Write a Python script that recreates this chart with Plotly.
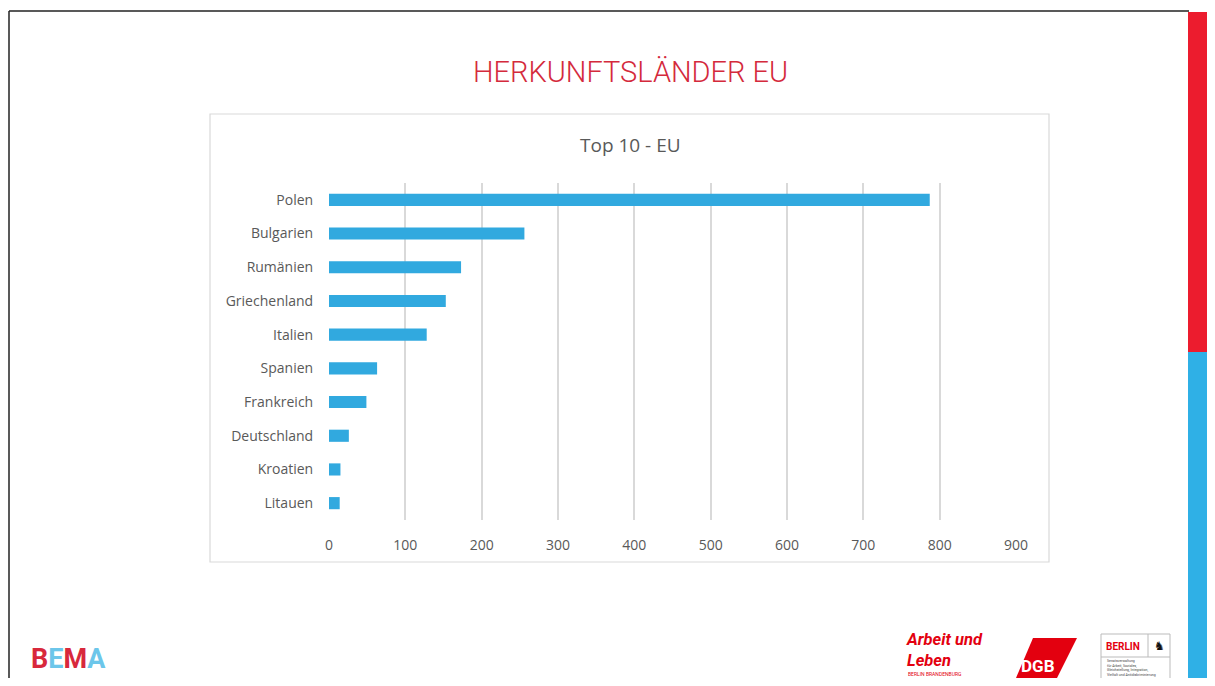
import plotly.graph_objects as go

# Page is 1215x686; browser body keeps its default 8px margin, so the
# figure is sized to fit exactly inside it and coordinates are offset.
PAGE_W, PAGE_H = 1215, 686
OFF = 8
FW, FH = PAGE_W - 2 * OFF, PAGE_H - 2 * OFF

countries = ["Polen", "Bulgarien", "Rumänien", "Griechenland", "Italien",
             "Spanien", "Frankreich", "Deutschland", "Kroatien", "Litauen"]
values = [787, 256, 173, 153, 128, 63, 49, 26, 15, 14]
x_ticks = [0, 100, 200, 300, 400, 500, 600, 700, 800, 900]

main_title = "HERKUNFTSLÄNDER EU"
chart_title = "Top 10 - EU"

BAR = "#31a9df"
RED = "#ec1c2e"
BLUE = "#2fb0e6"
GRAY_TXT = "#595959"


def px(x):
    return (x - OFF) / FW


def py(y):
    return 1 - (y - OFF) / FH


fig = go.Figure(go.Bar(
    x=values, y=countries, orientation="h",
    marker=dict(color=BAR, line=dict(width=0)),
    hoverinfo="x+y",
))

shapes = []
# page border lines (top + left)
shapes.append(dict(type="line", xref="paper", yref="paper", x0=px(9), x1=px(1189), y0=py(11), y1=py(11),
                   line=dict(color="#222222", width=1.5)))
shapes.append(dict(type="line", xref="paper", yref="paper", x0=px(9), x1=px(9), y0=py(11), y1=py(700),
                   line=dict(color="#222222", width=1.5)))
# right colour bars
shapes.append(dict(type="rect", xref="paper", yref="paper", x0=px(1188), x1=px(1230), y0=py(12), y1=py(352),
                   fillcolor=RED, line=dict(width=0), layer="below"))
shapes.append(dict(type="rect", xref="paper", yref="paper", x0=px(1188), x1=px(1230), y0=py(352), y1=py(700),
                   fillcolor=BLUE, line=dict(width=0), layer="below"))
# chart frame
shapes.append(dict(type="rect", xref="paper", yref="paper", x0=px(210), x1=px(1049), y0=py(114), y1=py(562),
                   fillcolor="rgba(0,0,0,0)", line=dict(color="#d9d9d9", width=1.2), layer="below"))
# DGB parallelogram
shapes.append(dict(type="path", xref="paper", yref="paper",
                   path=f"M {px(1016)} {py(678)} L {px(1057)} {py(678)} L {px(1077)} {py(638)} L {px(1033)} {py(638)} Z",
                   fillcolor="#e3000f", line=dict(width=0)))
# Berlin box
shapes.append(dict(type="rect", xref="paper", yref="paper", x0=px(1101), x1=px(1170), y0=py(634), y1=py(684),
                   fillcolor="white", line=dict(color="#bbbbbb", width=1)))
shapes.append(dict(type="line", xref="paper", yref="paper", x0=px(1101), x1=px(1170), y0=py(657), y1=py(657),
                   line=dict(color="#bbbbbb", width=1)))
shapes.append(dict(type="line", xref="paper", yref="paper", x0=px(1148), x1=px(1148), y0=py(634), y1=py(657),
                   line=dict(color="#bbbbbb", width=1)))

annotations = [
    dict(text=main_title, x=px(630), y=py(72), xref="paper", yref="paper", showarrow=False,
         xanchor="center", yanchor="middle",
         font=dict(family="Roboto", size=29, color="#d42a3c", weight=300)),
    dict(text=chart_title, x=px(630), y=py(145), xref="paper", yref="paper", showarrow=False,
         xanchor="center", yanchor="middle",
         font=dict(family="Open Sans", size=19, color=GRAY_TXT)),
    # BEMA logo
    dict(text="<b><span style='color:#d8283c'>B</span><span style='color:#6cc6ea'>E</span>"
              "<span style='color:#d8283c'>M</span><span style='color:#6cc6ea'>A</span></b>",
         x=px(29), y=py(659), xref="paper", yref="paper", showarrow=False,
         xanchor="left", yanchor="middle",
         font=dict(family="Roboto", size=27)),
    # Arbeit und Leben
    dict(text="<b><i>Arbeit und<br>Leben</i></b>", x=px(904), y=py(650), xref="paper", yref="paper",
         showarrow=False, xanchor="left", yanchor="middle", align="left",
         font=dict(family="Roboto", size=16.5, color="#e3000f")),
    dict(text="BERLIN BRANDENBURG", x=px(906), y=py(674), xref="paper", yref="paper",
         showarrow=False, xanchor="left", yanchor="middle",
         font=dict(family="Roboto", size=5, color="#e3000f")),
    # DGB
    dict(text="<b>DGB</b>", x=px(1038), y=py(666), xref="paper", yref="paper",
         showarrow=False, xanchor="center", yanchor="middle",
         font=dict(family="Roboto", size=17, color="white")),
    # Berlin
    dict(text="<b>BERLIN</b>", x=px(1123), y=py(646), xref="paper", yref="paper",
         showarrow=False, xanchor="center", yanchor="middle",
         font=dict(family="Roboto", size=10, color="#e3000f")),
    dict(text="<b>♞</b>", x=px(1159), y=py(646), xref="paper", yref="paper",
         showarrow=False, xanchor="center", yanchor="middle",
         font=dict(family="DejaVu Sans", size=12, color="#111111")),
    dict(text="Senatsverwaltung<br>für Arbeit, Soziales,<br>Gleichstellung, Integration,<br>Vielfalt und Antidiskriminierung",
         x=px(1105), y=py(668), xref="paper", yref="paper",
         showarrow=False, xanchor="left", yanchor="middle", align="left",
         font=dict(family="Roboto", size=3.5, color="#444444")),
]

fig.update_layout(
    width=FW, height=FH,
    autosize=False,
    margin=dict(l=0, r=0, t=0, b=0, pad=0, autoexpand=False),
    paper_bgcolor="white", plot_bgcolor="white",
    showlegend=False,
    bargap=0.64,
    shapes=shapes,
    annotations=annotations,
    xaxis=dict(
        domain=[px(329), px(1016)],
        range=[0, 900], tickvals=x_ticks,
        showgrid=True, gridcolor="#d9d9d9", gridwidth=1.5,
        zeroline=False, showline=False, automargin=False,
        ticks="outside", ticklen=12, tickcolor="rgba(0,0,0,0)",
        tickfont=dict(family="Open Sans", size=14, color=GRAY_TXT),
        fixedrange=True,
    ),
    yaxis=dict(
        domain=[py(520), py(183)],
        autorange="reversed", type="category",
        showgrid=False, zeroline=False, showline=False, automargin=False,
        ticks="outside", ticklen=12, tickcolor="rgba(0,0,0,0)",
        tickfont=dict(family="Open Sans", size=14, color=GRAY_TXT),
        fixedrange=True,
    ),
)

fig.write_html("out.html", config={"displayModeBar": False, "responsive": False})
